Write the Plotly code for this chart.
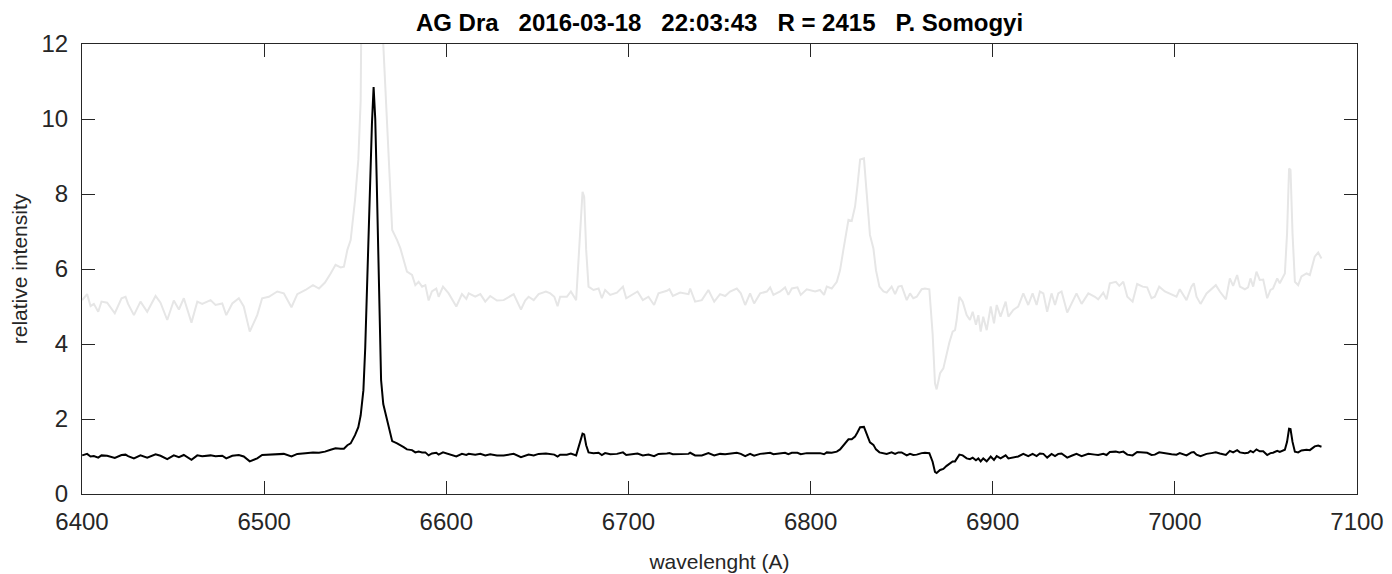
import plotly.graph_objects as go

# Wavelength grid (Angstrom)
wavelength = [
    6400.1, 6402.8, 6404.7, 6406.5, 6408.9, 6410.7, 6413.8, 6418.0, 6421.7, 6423.9,
    6425.3, 6428.5, 6432.1, 6435.8, 6440.4, 6443.1, 6446.8, 6450.4, 6453.2, 6455.9,
    6460.1, 6463.3, 6466.0, 6470.6, 6473.3, 6477.0, 6479.2, 6482.5, 6486.1, 6488.8,
    6492.1, 6496.2, 6498.9, 6502.6, 6507.2, 6510.8, 6515.0, 6518.2, 6522.7, 6526.8,
    6530.1, 6533.4, 6536.5, 6539.2, 6542.0, 6543.8, 6545.7, 6547.5, 6549.9, 6551.7,
    6553.0, 6554.5, 6555.5, 6557.0, 6558.1, 6559.2, 6560.1, 6561.0, 6561.8, 6563.0,
    6564.2, 6565.4, 6567.0, 6568.4, 6570.3, 6573.0,
    6574.8, 6576.6, 6578.4, 6581.2, 6583.0, 6584.8, 6586.7, 6588.5, 6590.3, 6592.1,
    6594.5, 6595.8, 6598.2, 6601.3, 6605.5, 6608.6, 6611.0, 6612.3, 6615.9, 6618.7,
    6621.4, 6624.1, 6627.8, 6631.5, 6637.0, 6641.0, 6643.3, 6645.2, 6648.0, 6650.7,
    6654.7, 6657.1, 6659.3, 6661.1, 6662.5, 6666.2, 6668.4, 6671.3, 6673.5, 6674.8,
    6675.7, 6676.8, 6678.1, 6680.8, 6683.6, 6685.4, 6687.2, 6690.0, 6693.7, 6697.0,
    6698.8, 6701.9, 6705.0, 6707.9, 6711.0, 6714.1, 6716.5, 6721.1, 6722.5, 6724.4,
    6728.4, 6733.0, 6733.9, 6736.6, 6740.3, 6743.9, 6747.1, 6750.3,
    6753.1, 6755.8, 6759.5, 6761.7, 6764.1, 6766.8, 6769.0, 6772.3, 6776.0, 6777.8,
    6779.6, 6783.3, 6786.0, 6787.8, 6789.7, 6792.8, 6794.6, 6797.9, 6802.5, 6805.2,
    6807.4, 6808.9, 6811.6, 6814.4, 6816.2, 6818.0, 6819.5, 6820.8, 6822.6, 6824.4,
    6825.7, 6827.2, 6829.3, 6830.8, 6832.6, 6834.5, 6835.9, 6837.8, 6840.0, 6841.8,
    6844.5, 6846.4, 6848.2, 6850.0, 6852.8, 6854.6, 6856.4, 6858.3, 6861.0, 6862.8,
    6865.2, 6867.0, 6868.3, 6869.2, 6871.1, 6872.9, 6874.7, 6876.2, 6878.0, 6879.3,
    6880.2, 6881.7, 6883.5, 6885.7, 6887.5, 6889.0, 6890.8, 6892.1, 6893.4, 6894.8,
    6896.7, 6898.9, 6900.7, 6902.2, 6904.3, 6907.1, 6908.6, 6911.3, 6914.0, 6916.8,
    6919.5, 6921.9, 6924.1,
    6925.9, 6927.8, 6929.9, 6932.3, 6934.2, 6936.0, 6937.8, 6940.9, 6943.3, 6946.0,
    6948.8, 6952.5, 6956.1, 6957.9, 6960.7, 6962.5, 6964.3, 6967.6, 6969.5, 6971.7,
    6973.9, 6976.8, 6979.3, 6982.3, 6984.8, 6987.2, 6989.0, 6991.4, 6994.5, 6998.2,
    7000.9, 7002.7, 7006.4, 7009.1, 7010.4, 7011.9, 7014.1, 7017.4, 7020.1, 7022.5,
    7024.7, 7028.0, 7030.2, 7032.0, 7034.2, 7035.7, 7038.4, 7040.2, 7041.5, 7043.0,
    7044.8, 7046.6, 7048.5, 7050.7, 7052.5, 7053.9, 7056.2, 7057.6, 7060.4, 7061.6,
    7062.7, 7063.5, 7064.6, 7065.9, 7067.7, 7069.5, 7072.3, 7074.1, 7076.8, 7078.7,
    7080.5,
]

# Light grey spectrum (magnified copy)
intensity_grey = [
    5.17, 5.33, 5.01, 5.07, 4.86, 5.13, 5.10, 4.82, 5.22, 5.26,
    5.07, 4.77, 5.13, 4.86, 5.28, 5.10, 4.64, 5.16, 4.92, 5.22,
    4.57, 5.13, 5.07, 5.17, 5.04, 5.08, 4.77, 5.08, 5.22, 5.00,
    4.33, 4.77, 5.22, 5.26, 5.40, 5.35, 4.98, 5.33, 5.44, 5.57,
    5.48, 5.64, 5.88, 6.11, 6.04, 6.06, 6.51, 6.77, 7.84, 8.91,
    10.5, 13.9, 19.5, 33.0, 41.9, 49.5, 54.3, 50.0, 41.9, 28.5,
    15.2, 12.0, 10.3, 9.0, 7.04, 6.77,
    6.55, 6.24, 5.93, 5.84, 5.57, 5.66, 5.53, 5.57, 5.16, 5.40,
    5.48, 5.26, 5.53, 5.35, 5.00, 5.33, 5.20, 5.35, 5.26, 5.33,
    5.13, 5.28, 5.16, 5.17, 5.33, 4.92, 5.16, 5.26, 5.17, 5.33,
    5.40, 5.35, 5.26, 5.01, 5.26, 5.26, 5.40, 5.17, 6.95, 8.06,
    7.93, 6.51, 5.53, 5.44, 5.48, 5.22, 5.44, 5.31, 5.37, 5.53,
    5.22, 5.31, 5.40, 5.17, 5.26, 5.04, 5.35, 5.42, 5.46, 5.28,
    5.37, 5.33, 5.48, 5.13, 5.17, 5.44, 5.13, 5.33,
    5.28, 5.40, 5.48, 5.35, 5.04, 5.35, 5.08, 5.35, 5.40, 5.51,
    5.31, 5.40, 5.51, 5.31, 5.48, 5.51, 5.31, 5.46, 5.40, 5.44,
    5.31, 5.53, 5.48, 5.66, 5.97, 6.51, 6.95, 7.31, 7.28, 7.66,
    8.20, 8.92, 8.95, 8.11, 6.91, 6.55, 5.97, 5.53, 5.40, 5.37,
    5.53, 5.33, 5.53, 5.55, 5.17, 5.35, 5.22, 5.26, 5.46, 5.48,
    5.46, 4.28, 2.95, 2.79, 3.22, 3.35, 3.75, 4.04, 4.33, 4.37,
    4.64, 5.26, 5.13, 4.77, 4.64, 4.86, 4.51, 4.77, 4.33, 4.73,
    4.37, 5.00, 4.55, 5.04, 4.73, 5.13, 4.73, 4.91, 5.00, 5.35,
    5.04, 5.35, 5.04,
    5.40, 5.35, 4.86, 5.35, 5.04, 5.35, 5.40, 4.84, 5.08, 5.35,
    5.07, 5.35, 5.26, 5.19, 5.37, 5.19, 5.62, 5.66, 5.55, 5.66,
    5.26, 5.13, 5.60, 5.53, 5.51, 5.22, 5.26, 5.53, 5.40, 5.31,
    5.26, 5.46, 5.17, 5.53, 5.62, 5.26, 5.07, 5.35, 5.46, 5.57,
    5.40, 5.19, 5.75, 5.55, 5.84, 5.53, 5.46, 5.51, 5.75, 5.53,
    5.93, 5.71, 5.72, 5.22, 5.44, 5.48, 5.75, 5.62, 5.88, 6.95,
    8.68, 8.64, 6.95, 5.66, 5.57, 5.80, 5.88, 5.84, 6.33, 6.44,
    6.28,
]

# Black spectrum (relative intensity)
intensity_black = [
    1.03, 1.07, 1.00, 1.01, 0.97, 1.03, 1.02, 0.96, 1.04, 1.05,
    1.01, 0.95, 1.03, 0.97, 1.06, 1.02, 0.93, 1.03, 0.98, 1.04,
    0.91, 1.03, 1.01, 1.03, 1.01, 1.02, 0.95, 1.02, 1.04, 1.00,
    0.87, 0.95, 1.04, 1.05, 1.08, 1.07, 1.00, 1.07, 1.09, 1.11,
    1.10, 1.13, 1.18, 1.22, 1.21, 1.21, 1.30, 1.35, 1.57, 1.78,
    2.10, 2.77, 3.90, 6.60, 8.37, 9.90, 10.85, 10.00, 8.37, 5.70,
    3.04, 2.40, 2.06, 1.80, 1.41, 1.35,
    1.31, 1.25, 1.19, 1.17, 1.11, 1.13, 1.11, 1.11, 1.03, 1.08,
    1.10, 1.05, 1.11, 1.07, 1.00, 1.07, 1.04, 1.07, 1.05, 1.07,
    1.03, 1.06, 1.03, 1.03, 1.07, 0.98, 1.03, 1.05, 1.03, 1.07,
    1.08, 1.07, 1.05, 1.00, 1.05, 1.05, 1.08, 1.03, 1.39, 1.61,
    1.59, 1.30, 1.11, 1.09, 1.10, 1.04, 1.09, 1.06, 1.07, 1.11,
    1.04, 1.06, 1.08, 1.03, 1.05, 1.01, 1.07, 1.08, 1.09, 1.06,
    1.07, 1.07, 1.10, 1.03, 1.03, 1.09, 1.03, 1.07,
    1.06, 1.08, 1.10, 1.07, 1.01, 1.07, 1.02, 1.07, 1.08, 1.10,
    1.06, 1.08, 1.10, 1.06, 1.10, 1.10, 1.06, 1.09, 1.08, 1.09,
    1.06, 1.11, 1.10, 1.13, 1.19, 1.30, 1.39, 1.46, 1.46, 1.53,
    1.64, 1.78, 1.79, 1.62, 1.38, 1.31, 1.19, 1.11, 1.08, 1.07,
    1.11, 1.07, 1.11, 1.11, 1.03, 1.07, 1.04, 1.05, 1.09, 1.10,
    1.09, 0.86, 0.59, 0.56, 0.64, 0.67, 0.75, 0.81, 0.87, 0.87,
    0.93, 1.05, 1.03, 0.95, 0.93, 0.97, 0.90, 0.95, 0.87, 0.95,
    0.87, 1.00, 0.91, 1.01, 0.95, 1.03, 0.95, 0.98, 1.00, 1.07,
    1.01, 1.07, 1.01,
    1.08, 1.07, 0.97, 1.07, 1.01, 1.07, 1.08, 0.97, 1.02, 1.07,
    1.01, 1.07, 1.05, 1.04, 1.07, 1.04, 1.12, 1.13, 1.11, 1.13,
    1.05, 1.03, 1.12, 1.11, 1.10, 1.04, 1.05, 1.11, 1.08, 1.06,
    1.05, 1.09, 1.03, 1.11, 1.12, 1.05, 1.01, 1.07, 1.09, 1.11,
    1.08, 1.04, 1.15, 1.11, 1.17, 1.11, 1.09, 1.10, 1.15, 1.11,
    1.19, 1.14, 1.14, 1.04, 1.09, 1.10, 1.15, 1.12, 1.18, 1.39,
    1.74, 1.73, 1.39, 1.13, 1.11, 1.16, 1.18, 1.17, 1.27, 1.29,
    1.26,
]

x_ticks = [6400, 6500, 6600, 6700, 6800, 6900, 7000, 7100]
y_ticks = [0, 2, 4, 6, 8, 10, 12]

NB = "\u00a0"
title_text = (f"AG Dra{NB*3}2016-03-18{NB*3}22:03:43{NB*3}R = 2415{NB*3}P. Somogyi")

fig = go.Figure()
fig.add_trace(go.Scatter(x=wavelength, y=intensity_grey, mode="lines",
                         line=dict(color="#e6e6e6", width=2), showlegend=False,
                         hoverinfo="skip"))
fig.add_trace(go.Scatter(x=wavelength, y=intensity_black, mode="lines",
                         line=dict(color="#000000", width=2), showlegend=False))

axis_col = "#262626"
fig.update_layout(
    width=1392, height=574,
    margin=dict(l=82, r=35, t=44, b=80, autoexpand=False),
    paper_bgcolor="white", plot_bgcolor="white",
    font=dict(family="Liberation Sans, Arial, sans-serif", color=axis_col),
    title=dict(text=title_text, x=0.5, xref="paper", xanchor="center",
               y=1 - 23 / 574, yref="container", yanchor="middle",
               font=dict(size=24, color="#000000", family="Liberation Sans, Arial, sans-serif",
                         weight="bold")),
    xaxis=dict(range=[6400, 7100], tickvals=x_ticks, ticktext=[str(v) for v in x_ticks],
               ticks="inside", ticklen=13, tickwidth=1, tickcolor=axis_col,
               showline=True, linecolor=axis_col, linewidth=1, mirror="ticks",
               showgrid=False, zeroline=False, tickfont=dict(size=24, color=axis_col),
               ticklabelstandoff=6, automargin=False,
               title=dict(text="wavelenght (A)", font=dict(size=21, color=axis_col), standoff=20)),
    yaxis=dict(range=[0, 12], tickvals=y_ticks, ticktext=[str(v) for v in y_ticks],
               ticks="inside", ticklen=13, tickwidth=1, tickcolor=axis_col,
               showline=True, linecolor=axis_col, linewidth=1, mirror="ticks",
               showgrid=False, zeroline=False, tickfont=dict(size=24, color=axis_col),
               ticklabelstandoff=8, automargin=False,
               title=dict(text="relative intensity", font=dict(size=21, color=axis_col), standoff=8)),
)

fig.write_html("out.html")
